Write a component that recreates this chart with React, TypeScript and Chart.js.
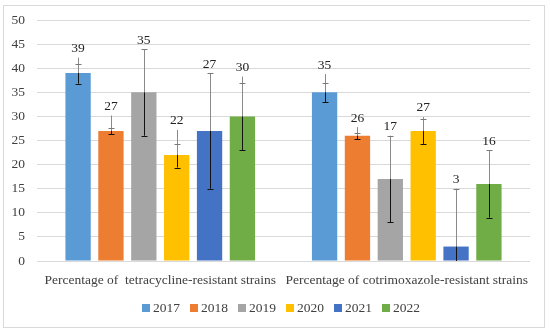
import React, { useEffect, useRef } from "react";
import { Chart, registerables } from "chart.js";

Chart.register(...registerables);

const categories = ["Percentage of  tetracycline-resistant strains", "Percentage of cotrimoxazole-resistant strains"];
const years = ["2017", "2018", "2019", "2020", "2021", "2022"];
const colors = ["#5B9BD5", "#ED7D31", "#A5A5A5", "#FFC000", "#4472C4", "#70AD47"];

const values2017 = [39, 35];
const values2018 = [27, 26];
const values2019 = [35, 17];
const values2020 = [22, 27];
const values2021 = [27, 3];
const values2022 = [30, 16];

// error bar lower cap, upper cap, and top of whisker line
const errLow = [[36.8, 33], [26.3, 25.3], [26, 8], [19.4, 24.3], [15, 0], [23, 9]];
const errHigh = [[40.8, 37], [27.6, 26.5], [44, 26], [24.3, 29.4], [39, 15], [37, 23]];
const errTop = [[42.2, 38.8], [30.2, 27.8], [44, 26], [27.2, 29.9], [39, 15], [38.3, 23]];

const yTicksMin = 0;
const yTicksMax = 50;
const yStep = 5;

const FONT = "'Liberation Serif', serif";

export default function App() {
  const ref = useRef<HTMLCanvasElement>(null);
  useEffect(() => {
    const values = [values2017, values2018, values2019, values2020, values2021, values2022];
    const overlay = {
      id: "overlay",
      afterDatasetsDraw(chart: any) {
        const ctx = chart.ctx;
        const y = chart.scales.y;
        ctx.save();
        chart.data.datasets.forEach((ds: any, di: number) => {
          const meta = chart.getDatasetMeta(di);
          meta.data.forEach((bar: any, i: number) => {
            const x = Math.round(bar.x) + 0.5;
            const v = ds.data[i];
            const yv = y.getPixelForValue(v);
            const yLo = y.getPixelForValue(errLow[di][i]);
            const yHi = y.getPixelForValue(errHigh[di][i]);
            const yTop = y.getPixelForValue(errTop[di][i]);
            ctx.lineWidth = 1;
            ctx.strokeStyle = "#8a8a8a";
            ctx.beginPath();
            ctx.moveTo(x, yv);
            ctx.lineTo(x, yTop);
            ctx.stroke();
            ctx.strokeStyle = "#111";
            ctx.beginPath();
            ctx.moveTo(x, yv);
            ctx.lineTo(x, yLo);
            ctx.stroke();
            const cap = (yy: number, val: number) => {
              ctx.strokeStyle = val < v ? "#111" : "#7a7a7a";
              ctx.beginPath();
              ctx.moveTo(x - 3, Math.round(yy) + 0.5);
              ctx.lineTo(x + 3, Math.round(yy) + 0.5);
              ctx.stroke();
            };
            cap(yHi, errHigh[di][i]);
            if (errLow[di][i] > 0) cap(yLo, errLow[di][i]);
            ctx.fillStyle = "#222";
            ctx.font = "13.5px " + FONT;
            ctx.textAlign = "center";
            ctx.textBaseline = "middle";
            ctx.fillText(String(v), bar.x, yTop - 9);
          });
        });
        // legend
        ctx.font = "13.5px " + FONT;
        ctx.textBaseline = "middle";
        ctx.textAlign = "left";
        const gap = 3, box = 8, itemGap = 10;
        const widths = years.map((t) => box + gap + ctx.measureText(t).width);
        const total = widths.reduce((a, b) => a + b, 0) + itemGap * (years.length - 1);
        let lx = 281 - total / 2;
        const ly = 308;
        years.forEach((t, k) => {
          ctx.fillStyle = colors[k];
          ctx.fillRect(lx, ly - 4, box, box);
          ctx.fillStyle = "#404040";
          ctx.fillText(t, lx + box + gap, ly + 0.5);
          lx += widths[k] + itemGap;
        });
        ctx.strokeStyle = "#d9d9d9";
        ctx.lineWidth = 1;
        ctx.strokeRect(3.5, 5.5, 541, 322);
        ctx.restore();
      },
    };
    const chart = new Chart(ref.current!, {
      type: "bar",
      data: {
        labels: categories,
        datasets: years.map((yr, k) => ({
          label: yr,
          data: values[k],
          backgroundColor: colors[k],
          barPercentage: 0.77,
          categoryPercentage: 0.8,
        })),
      },
      options: {
        responsive: false,
        animation: false,
        devicePixelRatio: 1,
        layout: { padding: { left: 0, right: 20, top: 19, bottom: 0 } },
        plugins: { legend: { display: false }, tooltip: { enabled: false } },
        scales: {
          x: {
            grid: { display: false, drawTicks: false },
            border: { display: false },
            ticks: { color: "#404040", font: { family: FONT, size: 13.5 }, padding: 11, maxRotation: 0, autoSkip: false },
            afterFit: (s: any) => { s.height = 73; },
          },
          y: {
            min: yTicksMin,
            max: yTicksMax,
            ticks: { stepSize: yStep, color: "#404040", font: { family: FONT, size: 13.5 }, padding: 12 },
            grid: { color: "#d9d9d9", drawTicks: false },
            border: { display: false },
            afterFit: (s: any) => { s.width = 37; },
          },
        },
      },
      plugins: [overlay],
    });
    return () => chart.destroy();
  }, []);
  return (
    <div style={{ position: "fixed", left: 0, top: 0, width: 550, height: 334, background: "#fff" }}>
      <canvas ref={ref} width={550} height={334} style={{ display: "block", width: 550, height: 334 }} />
    </div>
  );
}
